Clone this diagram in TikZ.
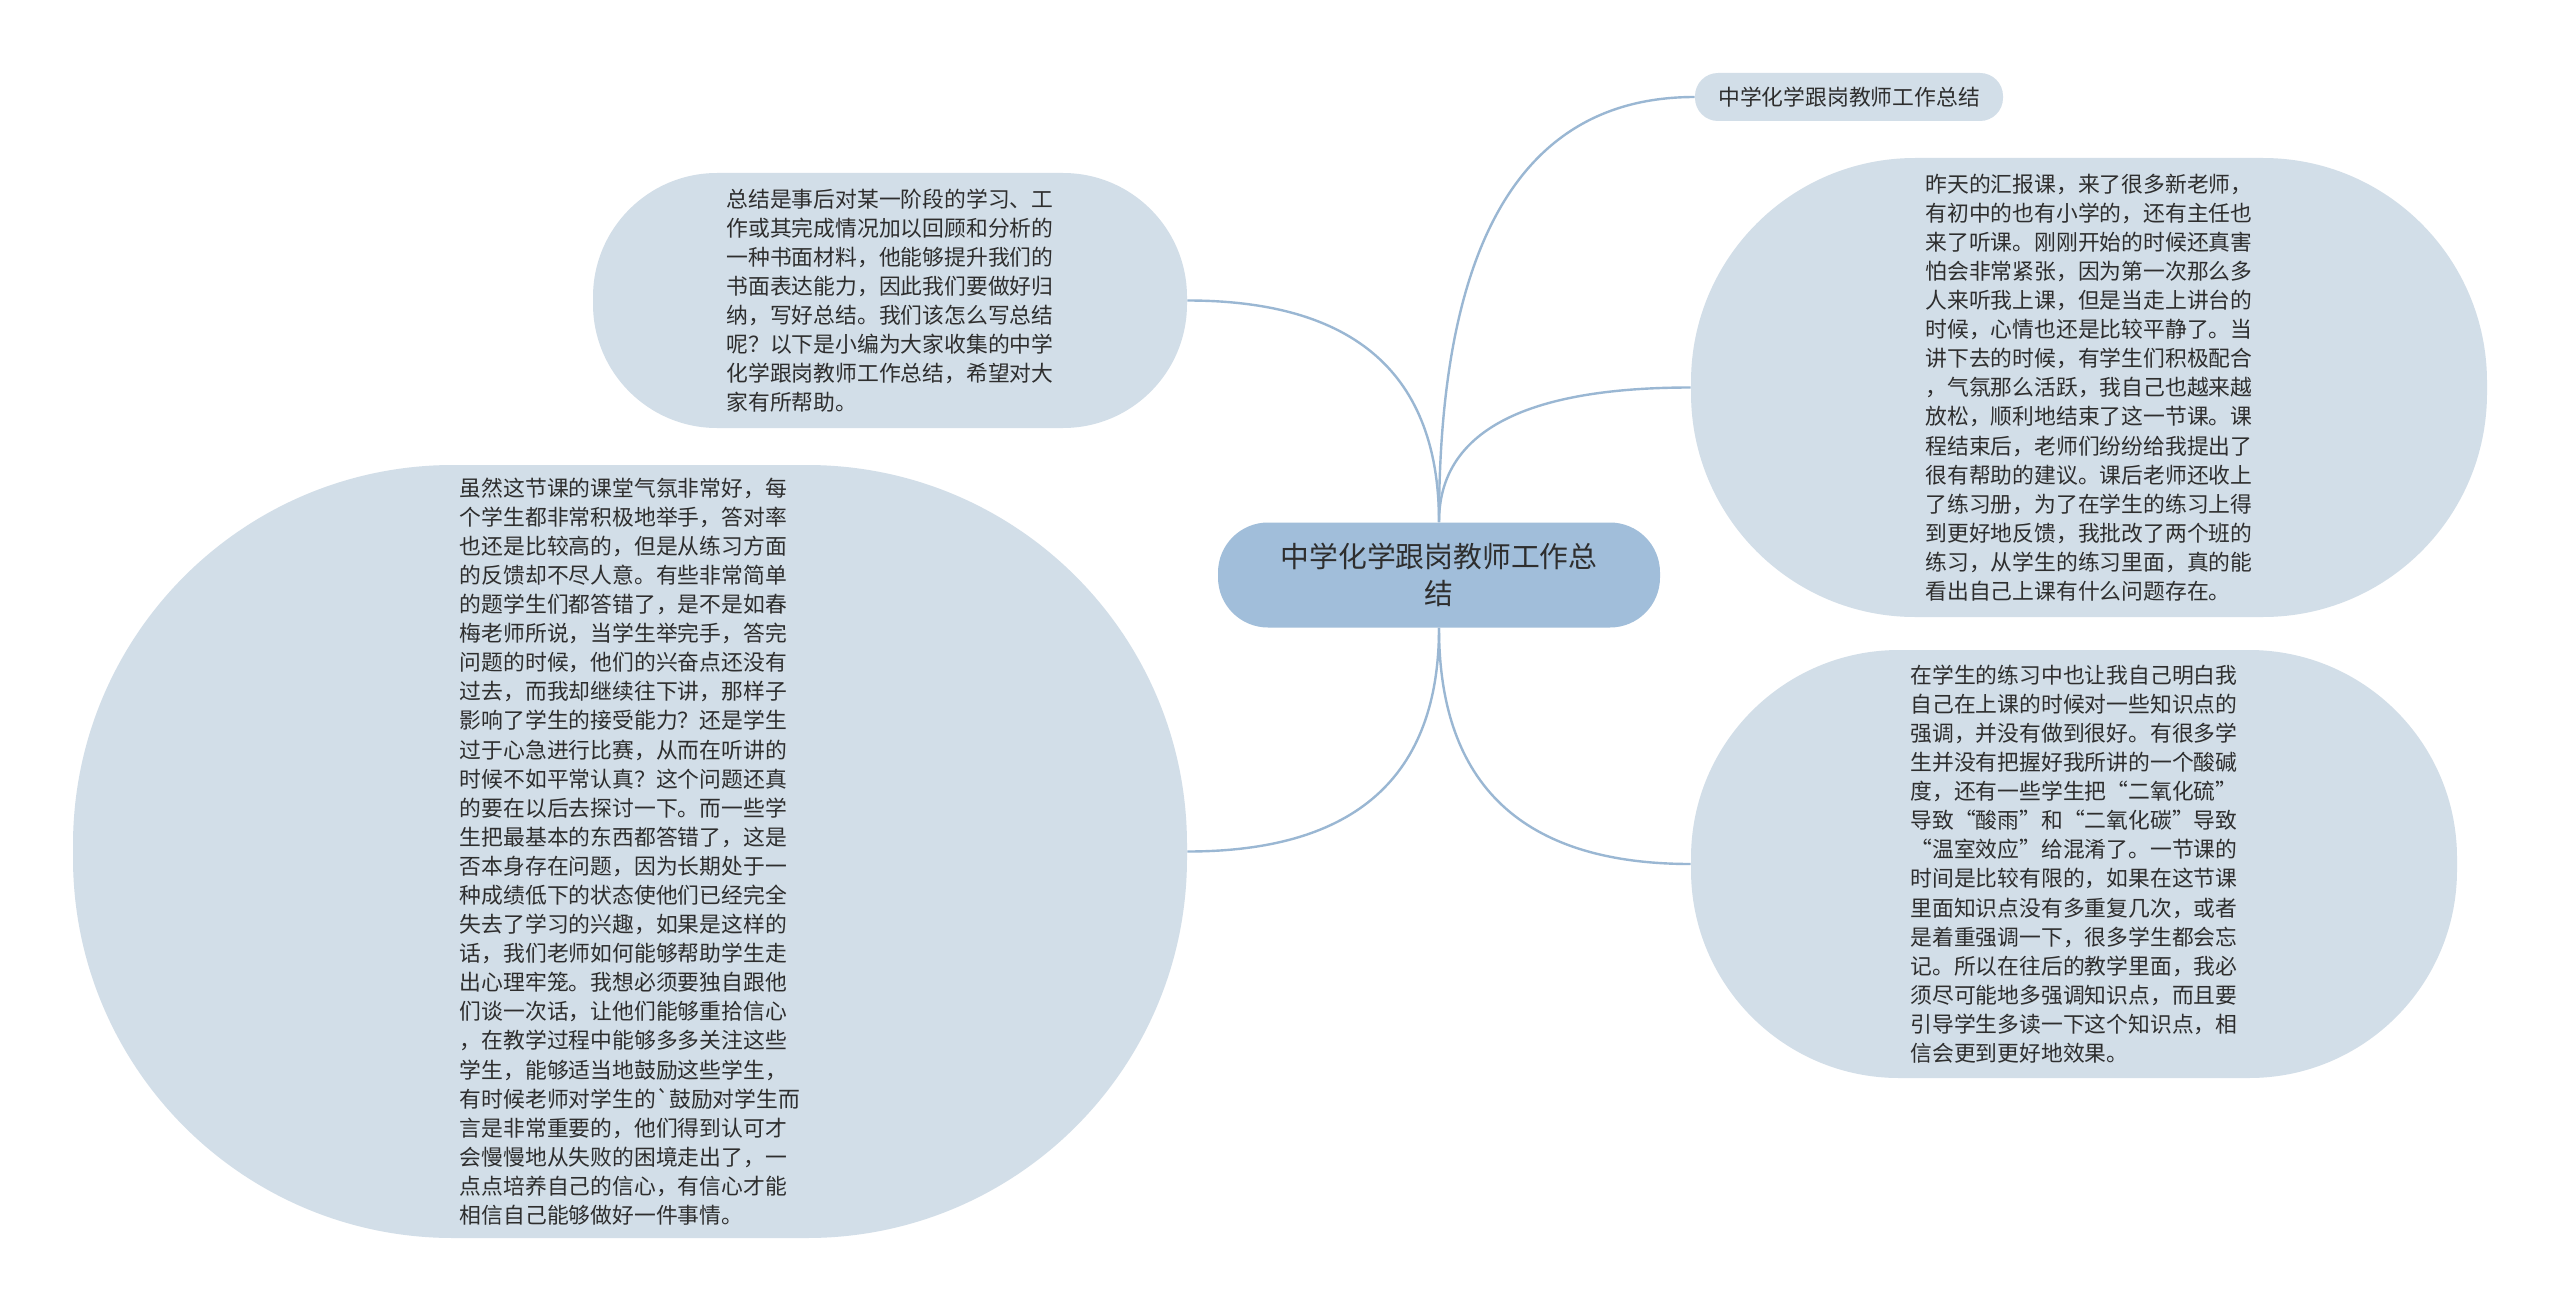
\documentclass[tikz,border=0pt]{standalone}
\usepackage{fontspec}
\setmainfont{Noto Sans CJK SC}
\newfontfamily\gravefont{Noto Sans CJK SC}
\usetikzlibrary{calc}
\definecolor{nodefill}{HTML}{D2DEE8}
\definecolor{rootfill}{HTML}{A1BEDA}
\definecolor{linec}{HTML}{9AB7D3}
\definecolor{txt}{HTML}{2E2E2E}
\newcommand{\qcurve}[2]{\draw[link] (#1) .. controls ($(#1)!0.6667!(#1 |- #2)$) and ($(#2)!0.6667!(#1 |- #2)$) .. (#2);}
\begin{document}
\begin{tikzpicture}[x=0.5pt,y=-0.5pt,
  bubble/.style={rectangle, fill=nodefill, draw=none, inner sep=0pt, align=left, text=txt,
    font=\fontsize{10.9pt}{14.55pt}\selectfont},
  rootnode/.style={rectangle, fill=rootfill, draw=none, inner sep=0pt, align=center, text=txt,
    font=\fontsize{14.4pt}{18.8pt}\selectfont,
    minimum width=221pt, minimum height=52.5pt, rounded corners=25pt},
  link/.style={draw=linec, line width=1.2pt}]
\fill[white] (0,0) rectangle (2560,1311);
\useasboundingbox (0,0) rectangle (2560,1311);

\node[rootnode] (ctr) at (1439,575) {中学化学跟岗教师工作总\\结};

\node[bubble, minimum width=154pt, minimum height=24pt, rounded corners=11.5pt] (tr) at (1849,97) {中学化学跟岗教师工作总结};

\node[bubble, minimum width=297pt, minimum height=127.5pt, rounded corners=62pt] (tl) at (890,300.5) {总结是事后对某一阶段的学习、工\\%
作或其完成情况加以回顾和分析的\\%
一种书面材料，他能够提升我们的\\%
书面表达能力，因此我们要做好归\\%
纳，写好总结。我们该怎么写总结\\%
呢？以下是小编为大家收集的中学\\%
化学跟岗教师工作总结，希望对大\\%
家有所帮助。};

\node[bubble, minimum width=398pt, minimum height=229.5pt, rounded corners=112pt] (r1) at (2089,387.5) {昨天的汇报课，来了很多新老师，\\%
有初中的也有小学的，还有主任也\\%
来了听课。刚刚开始的时候还真害\\%
怕会非常紧张，因为第一次那么多\\%
人来听我上课，但是当走上讲台的\\%
时候，心情也还是比较平静了。当\\%
讲下去的时候，有学生们积极配合\\%
，气氛那么活跃，我自己也越来越\\%
放松，顺利地结束了这一节课。课\\%
程结束后，老师们纷纷给我提出了\\%
很有帮助的建议。课后老师还收上\\%
了练习册，为了在学生的练习上得\\%
到更好地反馈，我批改了两个班的\\%
练习，从学生的练习里面，真的能\\%
看出自己上课有什么问题存在。};

\node[bubble, minimum width=383pt, minimum height=214pt, rounded corners=104pt] (r2) at (2074,864) {在学生的练习中也让我自己明白我\\%
自己在上课的时候对一些知识点的\\%
强调，并没有做到很好。有很多学\\%
生并没有把握好我所讲的一个酸碱\\%
度，还有一些学生把“二氧化硫”\\%
导致“酸雨”和“二氧化碳”导致\\%
“温室效应”给混淆了。一节课的\\%
时间是比较有限的，如果在这节课\\%
里面知识点没有多重复几次，或者\\%
是着重强调一下，很多学生都会忘\\%
记。所以在往后的教学里面，我必\\%
须尽可能地多强调知识点，而且要\\%
引导学生多读一下这个知识点，相\\%
信会更到更好地效果。};

\node[bubble, minimum width=557pt, minimum height=386.5pt, rounded corners=190pt] (lb) at (630,851.5) {虽然这节课的课堂气氛非常好，每\\%
个学生都非常积极地举手，答对率\\%
也还是比较高的，但是从练习方面\\%
的反馈却不尽人意。有些非常简单\\%
的题学生们都答错了，是不是如春\\%
梅老师所说，当学生举完手，答完\\%
问题的时候，他们的兴奋点还没有\\%
过去，而我却继续往下讲，那样子\\%
影响了学生的接受能力？还是学生\\%
过于心急进行比赛，从而在听讲的\\%
时候不如平常认真？这个问题还真\\%
的要在以后去探讨一下。而一些学\\%
生把最基本的东西都答错了，这是\\%
否本身存在问题，因为长期处于一\\%
种成绩低下的状态使他们已经完全\\%
失去了学习的兴趣，如果是这样的\\%
话，我们老师如何能够帮助学生走\\%
出心理牢笼。我想必须要独自跟他\\%
们谈一次话，让他们能够重拾信心\\%
，在教学过程中能够多多关注这些\\%
学生，能够适当地鼓励这些学生，\\%
有时候老师对学生的{\gravefont`}鼓励对学生而\\%
言是非常重要的，他们得到认可才\\%
会慢慢地从失败的困境走出了，一\\%
点点培养自己的信心，有信心才能\\%
相信自己能够做好一件事情。};

\qcurve{ctr.north}{tr.west}
\qcurve{ctr.north}{r1.west}
\qcurve{ctr.north}{tl.east}
\qcurve{ctr.south}{lb.east}
\qcurve{ctr.south}{r2.west}
\end{tikzpicture}
\end{document}
